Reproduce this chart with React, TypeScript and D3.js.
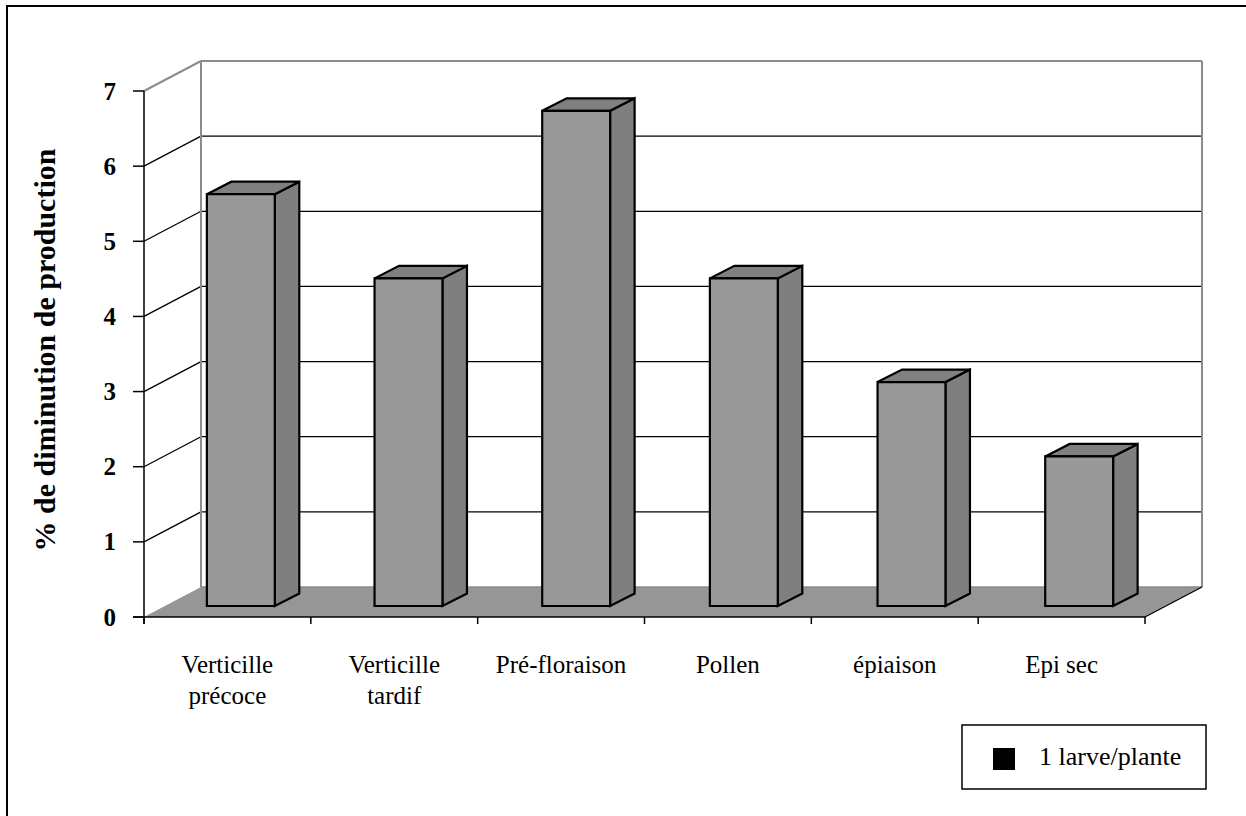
import React from "react";
import * as d3 from "d3";

const categories: string[][] = [
  ["Verticille", "précoce"],
  ["Verticille", "tardif"],
  ["Pré-floraison"],
  ["Pollen"],
  ["épiaison"],
  ["Epi sec"],
];
const values: number[] = [5.48, 4.36, 6.59, 4.36, 2.98, 1.99];
const yTicks: number[] = [0, 1, 2, 3, 4, 5, 6, 7];
const yTitle = "% de diminution de production";
const seriesName = "1 larve/plante";

const W = 1246;
const H = 816;
const FONT = "'Liberation Serif', 'Times New Roman', Times, serif";

// projection geometry
const FRONT_X0 = 144;
const FRONT_X1 = 1145;
const FRONT_Y0 = 617;
const FRONT_Y7 = 91;
const DX = 57; // depth offset of back wall
const DY = -30;
const BAR_BASE = 606; // bar front bottom
const BAR_DX = 24.5;
const BAR_DY = -12.5;

export default function App() {
  const yFront = d3.scaleLinear().domain([0, 7]).range([FRONT_Y0, FRONT_Y7]);
  const unit = FRONT_Y0 - yFront(1);
  const yBack = (v: number) => yFront(v) + DY;
  const yBar = (v: number) => BAR_BASE - v * unit;

  const idx = categories.map((_, i) => String(i));
  const xCat = d3.scaleBand().domain(idx).range([FRONT_X0, FRONT_X1]);
  const xBar = d3
    .scaleBand()
    .domain(idx)
    .range([157, 1163])
    .paddingInner(0.595)
    .paddingOuter(0.2975);

  const backL = FRONT_X0 + DX;
  const backR = FRONT_X1 + DX;
  const gray = "#8c8c8c";

  const floorPts = [
    [FRONT_X0, FRONT_Y0],
    [FRONT_X1, FRONT_Y0],
    [backR, FRONT_Y0 + DY],
    [backL, FRONT_Y0 + DY],
  ]
    .map((p) => p.join(","))
    .join(" ");

  return (
    <svg
      width={W}
      height={H}
      style={{ position: "absolute", left: 0, top: 0, background: "#fff", fontFamily: FONT }}
    >
      {/* outer frame */}
      <rect x={7} y={6} width={1260} height={840} fill="none" stroke="#000" strokeWidth={2} />

      {/* gridlines on back wall and side wall */}
      {yTicks
        .filter((t) => t > 0 && t < 7)
        .map((t) => (
          <g key={"g" + t}>
            <line x1={backL} x2={backR} y1={yBack(t)} y2={yBack(t)} stroke="#000" strokeWidth={1.3} />
            <line x1={FRONT_X0} y1={yFront(t)} x2={backL} y2={yBack(t)} stroke="#000" strokeWidth={1.3} />
          </g>
        ))}

      {/* wall edges (gray) */}
      <line x1={backL} x2={backR} y1={yBack(7)} y2={yBack(7)} stroke={gray} strokeWidth={2} />
      <line x1={FRONT_X0} y1={yFront(7)} x2={backL} y2={yBack(7)} stroke={gray} strokeWidth={2} />
      <line x1={backL} x2={backL} y1={yBack(7)} y2={yBack(0)} stroke={gray} strokeWidth={2} />
      <line x1={backR} x2={backR} y1={yBack(7)} y2={yBack(0)} stroke={gray} strokeWidth={2} />

      {/* floor */}
      <polygon points={floorPts} fill="#969696" stroke="none" />
      <line x1={backL} x2={backR} y1={yBack(0)} y2={yBack(0)} stroke={gray} strokeWidth={1.5} />
      <line x1={FRONT_X1} y1={FRONT_Y0} x2={backR} y2={yBack(0)} stroke="#000" strokeWidth={1.3} />

      {/* bars */}
      {values.map((v, i) => {
        const x0 = xBar(String(i)) as number;
        const w = xBar.bandwidth();
        const x1 = x0 + w;
        const yt = yBar(v);
        const front = `${x0},${yt} ${x1},${yt} ${x1},${BAR_BASE} ${x0},${BAR_BASE}`;
        const side = `${x1},${yt} ${x1 + BAR_DX},${yt + BAR_DY} ${x1 + BAR_DX},${BAR_BASE + BAR_DY} ${x1},${BAR_BASE}`;
        const top = `${x0},${yt} ${x0 + BAR_DX},${yt + BAR_DY} ${x1 + BAR_DX},${yt + BAR_DY} ${x1},${yt}`;
        return (
          <g key={"b" + i} stroke="#000" strokeWidth={2.2} strokeLinejoin="miter">
            <polygon points={side} fill="#7f7f7f" />
            <polygon points={top} fill="#808080" />
            <polygon points={front} fill="#999999" />
          </g>
        );
      })}

      {/* front axes */}
      <line x1={FRONT_X0} x2={FRONT_X0} y1={yFront(7)} y2={FRONT_Y0 + 7} stroke="#000" strokeWidth={1.5} />
      <line x1={FRONT_X0 - 11} x2={FRONT_X1} y1={FRONT_Y0} y2={FRONT_Y0} stroke="#000" strokeWidth={1.5} />
      {yTicks.map((t) => (
        <g key={"t" + t}>
          <line x1={FRONT_X0 - 11} x2={FRONT_X0} y1={yFront(t)} y2={yFront(t)} stroke="#000" strokeWidth={1.5} />
          <text
            x={116}
            y={yFront(t) + 8.5}
            textAnchor="end"
            fontSize={25}
            fontWeight="bold"
            fill="#000"
          >
            {t}
          </text>
        </g>
      ))}
      {idx.concat(["6"]).map((d, i) => {
        const x = i < 6 ? (xCat(d) as number) : FRONT_X1;
        return <line key={"xt" + i} x1={x} x2={x} y1={FRONT_Y0} y2={FRONT_Y0 + 7} stroke="#000" strokeWidth={1.5} />;
      })}

      {/* category labels */}
      {categories.map((lines, i) => {
        const cx = (xCat(String(i)) as number) + xCat.bandwidth() / 2;
        return (
          <text key={"c" + i} x={cx} y={673} textAnchor="middle" fontSize={25} fill="#000">
            {lines.map((l, j) => (
              <tspan key={j} x={cx} dy={j === 0 ? 0 : 31}>
                {l}
              </tspan>
            ))}
          </text>
        );
      })}

      {/* y title */}
      <text
        transform="translate(55,350) rotate(-90)"
        textAnchor="middle"
        fontSize={30}
        fontWeight="bold"
        fill="#000"
      >
        {yTitle}
      </text>

      {/* legend */}
      <rect x={962} y={725} width={244} height={64} fill="#fff" stroke="#000" strokeWidth={1.5} />
      <rect x={993} y={748} width={22} height={22} fill="#000" />
      <text x={1039} y={765} fontSize={26} fill="#000">
        {seriesName}
      </text>
    </svg>
  );
}
